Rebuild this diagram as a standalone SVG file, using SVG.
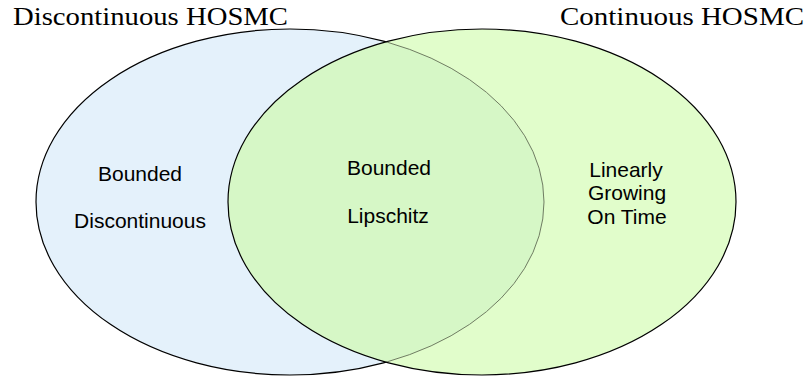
<svg xmlns="http://www.w3.org/2000/svg" width="808" height="381" viewBox="0 0 808 381">
  <style>
    .title { font-family: "Liberation Serif", "Times New Roman", serif; font-size: 26px; fill: #000; }
    .lbl { font-family: "Liberation Sans", Arial, sans-serif; font-size: 21px; fill: #000; text-anchor: middle; }
    .edge { fill: none; stroke: #000; stroke-width: 1.2; }
  </style>
  <defs>
    <clipPath id="clipBlue"><ellipse cx="290" cy="202" rx="254" ry="173"/></clipPath>
    <clipPath id="clipGreen"><ellipse cx="482" cy="202" rx="254" ry="173"/></clipPath>
  </defs>
  <rect width="808" height="381" fill="#ffffff"/>
  <g id="discontinuous-set">
    <ellipse cx="290" cy="202" rx="254" ry="173" fill="#e4f1fb" class="edge" style="fill:#e4f1fb"/>
  </g>
  <g id="continuous-set">
    <ellipse cx="482" cy="202" rx="254" ry="173" style="fill:#e1fdcb;stroke:none"/>
  </g>
  <g id="overlap">
    <ellipse cx="482" cy="202" rx="254" ry="173" clip-path="url(#clipBlue)" style="fill:#d6f7c6;stroke:none"/>
    <ellipse cx="290" cy="202" rx="254" ry="173" clip-path="url(#clipGreen)" style="fill:none;stroke:#6f7c62;stroke-width:1"/>
  </g>
  <g id="continuous-outline">
    <ellipse cx="482" cy="202" rx="254" ry="173" class="edge"/>
  </g>
  <g id="connectors"></g>
  <g id="titles">
    <text class="title" x="13" y="25" textLength="275" lengthAdjust="spacingAndGlyphs">Discontinuous HOSMC</text>
    <text class="title" x="560" y="25" textLength="244" lengthAdjust="spacingAndGlyphs">Continuous HOSMC</text>
  </g>
  <g id="left-labels">
    <text class="lbl" x="140" y="181">Bounded</text>
    <text class="lbl" x="140" y="228">Discontinuous</text>
  </g>
  <g id="middle-labels">
    <text class="lbl" x="389" y="175">Bounded</text>
    <text class="lbl" x="388" y="223">Lipschitz</text>
  </g>
  <g id="right-labels">
    <text class="lbl" x="626" y="177">Linearly</text>
    <text class="lbl" x="627" y="200">Growing</text>
    <text class="lbl" x="627" y="224">On Time</text>
  </g>
</svg>
